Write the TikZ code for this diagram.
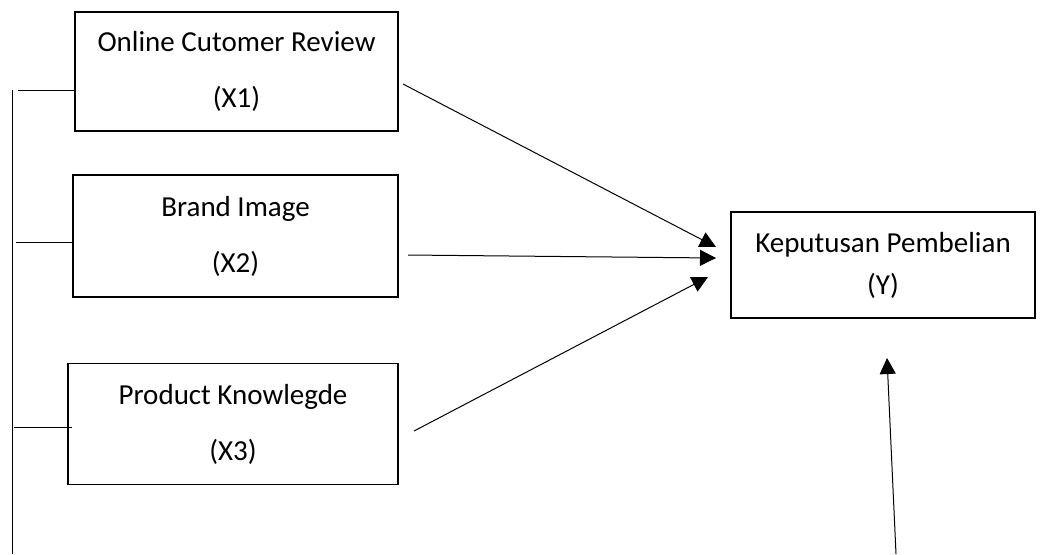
\documentclass[tikz,border=0pt]{standalone}
\usepackage{fontspec}
\setmainfont{Carlito}
\usetikzlibrary{arrows.meta}
\begin{document}
\begin{tikzpicture}[x=.5pt,y=-.5pt,
        varbox/.style={draw,line width=.8pt,align=center,inner sep=0pt,
            font=\fontsize{14.5}{28}\selectfont},
        arr/.style={-{Triangle[length=8pt,width=8pt]},line width=.5pt}]
            \useasboundingbox (0,0) rectangle (1043,554);
            % variables
            \node[varbox,minimum width=161.5pt,minimum height=59.5pt] (x1) at (236.5,71.5) {Online Cutomer Review\\(X1)};
            \node[varbox,minimum width=162.5pt,minimum height=61pt] (x2) at (235.5,236) {Brand Image\\(X2)};
            \node[varbox,minimum width=165pt,minimum height=60.5pt] (x3) at (233,424) {Product Knowlegde\\(X3)};
            \node[varbox,minimum width=152pt,minimum height=53pt,font=\fontsize{14.5}{21}\selectfont] (y) at (883,265) {Keputusan Pembelian\\(Y)};
            % left bracket
            \coordinate (top) at (12,90);
            \coordinate (bot) at (12,554);
            \draw[line width=.5pt] (top) -- (bot);
            \coordinate (l1) at (18,90);
            \coordinate (l2) at (16,242);
            \coordinate (l3) at (14,427);
            \draw[line width=.5pt] (l1) -- (x1.west |- l1);
            \draw[line width=.5pt] (l2) -- (x2.west |- l2);
            \draw[line width=.5pt] (l3) -- ([xshift=2.5pt]x3.west |- l3);
            % arrows to Y
            \coordinate (o1) at (403,84);
            \coordinate (o2) at (408,255);
            \coordinate (o3) at (414,431);
            \coordinate (i1) at (716,247);
            \coordinate (i2) at (716,258);
            \coordinate (i3) at (708,277);
            \draw[arr] (o1) -- (i1);
            \draw[arr] (o2) -- (i2);
            \draw[arr] (o3) -- (i3);
            \coordinate (src) at (896,554);
            \coordinate (i4) at (887,358);
            \draw[arr] (src) -- (i4);
        \end{tikzpicture}
\end{document}
